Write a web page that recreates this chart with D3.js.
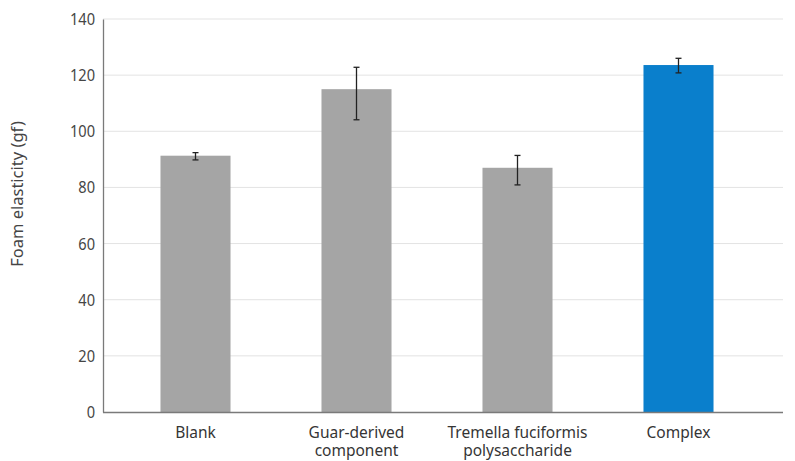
<!DOCTYPE html>
<html><head><meta charset="utf-8">
<script src="https://cdn.jsdelivr.net/npm/d3@7"></script>
<style>body{margin:0;background:#fff}svg{display:block}text{font-family:"Noto Sans",sans-serif}</style>
</head><body>
<svg id="c" width="795" height="461"></svg>
<script>
const categories = ["Blank", "Guar-derived\ncomponent", "Tremella fuciformis\npolysaccharide", "Complex"];
const values = [91.3, 115.0, 87.0, 123.6];
const errUpper = [1.1, 7.8, 4.4, 2.4];
const errLower = [1.5, 10.9, 6.1, 2.8];
const barColors = ["#a5a5a5", "#a5a5a5", "#a5a5a5", "#0a7fcc"];
const yTicks = [0, 20, 40, 60, 80, 100, 120, 140];
const yLabel = "Foam elasticity (gf)";

(function () {
const svg = d3.select("#c");
const mLeft = 103, mRight = 783, mTop = 19, mBottom = 412;
const x = d3.scaleBand().domain(categories).range([115, 759]).paddingInner(0.565).paddingOuter(0.2825);
const y = d3.scaleLinear().domain([0, 140]).range([mBottom, mTop]);

// grid
svg.append("g").selectAll("line").data(yTicks.filter(d => d > 0)).join("line")
  .attr("x1", mLeft).attr("x2", mRight).attr("y1", d => y(d)).attr("y2", d => y(d))
  .attr("stroke", "#e3e3e3").attr("stroke-width", 1);

// bars
svg.append("g").selectAll("rect").data(categories).join("rect")
  .attr("x", d => x(d)).attr("width", x.bandwidth())
  .attr("y", (d, i) => y(values[i])).attr("height", (d, i) => y(0) - y(values[i]))
  .attr("fill", (d, i) => barColors[i]);

// error bars
const eg = svg.append("g").attr("stroke", "#222").attr("stroke-width", 1.3);
categories.forEach((c, i) => {
  const cx = x(c) + x.bandwidth() / 2;
  const y1 = y(values[i] + errUpper[i]), y2 = y(values[i] - errLower[i]);
  eg.append("line").attr("x1", cx).attr("x2", cx).attr("y1", y1).attr("y2", y2);
  eg.append("line").attr("x1", cx - 3).attr("x2", cx + 3).attr("y1", y1).attr("y2", y1);
  eg.append("line").attr("x1", cx - 3).attr("x2", cx + 3).attr("y1", y2).attr("y2", y2);
});

// y axis
const ya = svg.append("g").attr("transform", `translate(${mLeft},0)`)
  .call(d3.axisLeft(y).tickValues(yTicks).tickSize(0).tickPadding(8));
ya.select(".domain").attr("stroke", "#7a7a7a").attr("stroke-width", 1.3);
ya.selectAll("text").attr("font-size", 17).attr("fill", "#454545").attr("font-family", "Noto Sans")
  .attr("x", 0).attr("transform", "translate(-8,0) scale(0.86,1)");

// x axis
const xa = svg.append("g").attr("transform", `translate(0,${mBottom})`)
  .call(d3.axisBottom(x).tickSize(0).tickFormat(""));
xa.select(".domain").attr("d", `M${mLeft},0.5H${mRight}`).attr("stroke", "#7a7a7a").attr("stroke-width", 1.3);
xa.selectAll(".tick").each(function(d) {
  const t = d3.select(this).append("text").attr("fill", "#353535").attr("font-size", 15.5)
    .attr("text-anchor", "middle").attr("font-family", "Noto Sans");
  d.split("\n").forEach((s, k) => t.append("tspan").attr("x", 0).attr("y", 26 + k * 18).text(s));
});

svg.append("text").attr("transform", "translate(23,194) rotate(-90)")
  .attr("text-anchor", "middle").attr("font-size", 16.5).attr("fill", "#454545").text(yLabel);
})();
</script>
</body></html>
